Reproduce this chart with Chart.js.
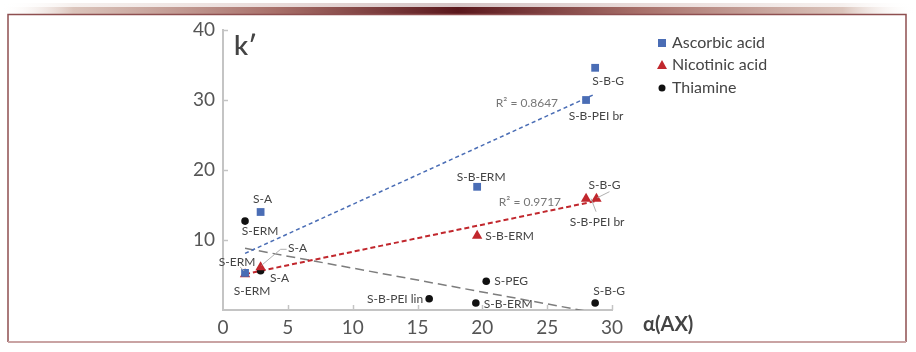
<!DOCTYPE html>
<html><head><meta charset="utf-8">
<script src="https://cdn.jsdelivr.net/npm/chart.js@4"></script>
<style>html,body{margin:0;padding:0;background:#fff}</style>
</head><body>
<canvas id="c" width="916" height="352" style="display:block;width:916px;height:352px"></canvas>
<script>
// ---------- data ----------
const seriesNames = ['Ascorbic acid', 'Nicotinic acid', 'Thiamine'];
const ascorbicX = [1.7, 2.9, 19.6, 28.0, 28.7];
const ascorbicY = [5.3, 14.0, 17.6, 30.0, 34.6];
const ascorbicLabels = ['S-ERM', 'S-A', 'S-B-ERM', 'S-B-PEI br', 'S-B-G'];
const nicotinicX = [1.7, 2.9, 19.6, 28.0, 28.8];
const nicotinicY = [5.1, 6.1, 10.6, 15.9, 15.9];
const nicotinicLabels = ['S-ERM', 'S-A', 'S-B-ERM', 'S-B-PEI br', 'S-B-G'];
const thiamineX = [1.7, 2.9, 20.3, 15.9, 19.5, 28.7];
const thiamineY = [12.7, 5.6, 4.1, 1.6, 1.0, 1.0];
const thiamineLabels = ['S-ERM', 'S-A', 'S-PEG', 'S-B-PEI lin', 'S-B-ERM', 'S-B-G'];
const xTicks = [0, 5, 10, 15, 20, 25, 30];
const yTicks = [10, 20, 30, 40];
const r2Labels = ['R\u00B2 = 0.8647', 'R\u00B2 = 0.9717'];
const yAxisTitle = 'k\u2032';
const xAxisTitle = '\u03B1(AX)';

// ---------- label placement (pixel offsets from the point) ----------
const labelOffsets = [
  [ {dx:-8, dy:-11, align:'center', leader:[[-5,-6],[-1,-2]]},
    {dx:2, dy:-13, align:'center'},
    {dx:4, dy:-10, align:'center'},
    {dx:10, dy:16, align:'center'},
    {dx:13, dy:13, align:'center'} ],
  [ {dx:7, dy:17, align:'center'},
    {dx:37, dy:-19, align:'center', leader:[[1,-2],[20,-18],[26,-18]]},
    {dx:8, dy:0, align:'left'},
    {dx:11, dy:23, align:'center', leader:[[5,0],[10,13]]},
    {dx:8, dy:-14, align:'center', leader:[[1,-1],[13,-7]]} ],
  [ {dx:15, dy:10, align:'center'},
    {dx:19, dy:7, align:'center'},
    {dx:8, dy:0, align:'left'},
    {dx:-6, dy:0, align:'right'},
    {dx:8, dy:1, align:'left'},
    {dx:14, dy:-12, align:'center'} ]
];
const r2Anchors = [ {series:0, point:3, dx:-28, dy:3}, {series:1, point:3, dx:-25, dy:3} ];

const colors = ['#4a6db5', '#c1272d', '#111111'];
const trendColors = ['#4a6db5', '#c1272d', '#7d7d7d'];
const FONT = 'Lato, "Open Sans", sans-serif';

function toPts(xs, ys) { return xs.map((x, i) => ({x: x, y: ys[i]})); }
function trend(xs, ys) {
  const n = xs.length;
  const mx = xs.reduce((a, b) => a + b, 0) / n;
  const my = ys.reduce((a, b) => a + b, 0) / n;
  let sxx = 0, sxy = 0;
  for (let i = 0; i < n; i++) { sxx += (xs[i] - mx) ** 2; sxy += (xs[i] - mx) * (ys[i] - my); }
  const b = sxy / sxx, a = my - b * mx;
  const x0 = Math.min(...xs), x1 = Math.max(...xs);
  return [{x: x0, y: a + b * x0}, {x: x1, y: a + b * x1}];
}

const seriesX = [ascorbicX, nicotinicX, thiamineX];
const seriesY = [ascorbicY, nicotinicY, thiamineY];
const seriesLabels = [ascorbicLabels, nicotinicLabels, thiamineLabels];
const pointStyles = ['rect', 'triangle', 'circle'];
const pointRadii = [5.5, 6, 3.8];
const dashes = [[4, 3], [5, 3], [9, 5]];
const dashWidths = [1.5, 2, 1.5];

const datasets = [];
for (let s = 0; s < 3; s++) {
  datasets.push({
    label: seriesNames[s], type: 'scatter', data: toPts(seriesX[s], seriesY[s]),
    pointStyle: pointStyles[s], pointRadius: pointRadii[s], pointHoverRadius: pointRadii[s],
    backgroundColor: colors[s], borderColor: colors[s], borderWidth: 0, order: 0
  });
}
for (let s = 0; s < 3; s++) {
  datasets.push({
    label: seriesNames[s] + ' trend', type: 'line', data: trend(seriesX[s], seriesY[s]),
    borderColor: trendColors[s], borderWidth: dashWidths[s], borderDash: dashes[s],
    pointRadius: 0, fill: false, tension: 0, order: 1, clip: 0
  });
}

const decor = {
  id: 'decor',
  beforeDraw(chart) {
    const ctx = chart.ctx;
    ctx.save();
    ctx.fillStyle = '#fff';
    ctx.fillRect(0, 0, chart.width, chart.height);
    // top band
    const g = ctx.createLinearGradient(0, 0, 916, 0);
    g.addColorStop(0, 'rgba(255,255,255,0)');
    g.addColorStop(0.08, 'rgba(215,190,180,0.9)');
    g.addColorStop(0.3, '#a8706a');
    g.addColorStop(0.5, '#5a171c');
    g.addColorStop(0.7, '#a8706a');
    g.addColorStop(0.92, 'rgba(215,190,180,0.9)');
    g.addColorStop(1, 'rgba(255,255,255,0)');
    ctx.fillStyle = g;
    ctx.globalAlpha = 0.25;
    ctx.fillRect(0, 3, 916, 4);
    ctx.globalAlpha = 1;
    ctx.fillRect(0, 7, 916, 7);
    // frame
    ctx.strokeStyle = '#8e4f50';
    ctx.lineWidth = 1.5;
    ctx.beginPath();
    ctx.moveTo(8, 342); ctx.lineTo(8, 14.5); ctx.lineTo(906, 14.5); ctx.lineTo(906, 342);
    ctx.stroke();
    ctx.strokeStyle = '#c9a3a3';
    ctx.lineWidth = 2;
    ctx.beginPath(); ctx.moveTo(8, 342); ctx.lineTo(906, 342); ctx.stroke();
    ctx.restore();
  },
  afterDraw(chart) {
    const ctx = chart.ctx;
    const xs = chart.scales.x, ys = chart.scales.y;
    ctx.save();
    // inner tick marks
    ctx.strokeStyle = '#c4c4c4';
    ctx.lineWidth = 1.5;
    yTicks.forEach(v => {
      const py = Math.round(ys.getPixelForValue(v)) + 0.5;
      ctx.beginPath(); ctx.moveTo(xs.left, py); ctx.lineTo(xs.left + 5, py); ctx.stroke();
    });
    xTicks.forEach(v => {
      if (v === 0) return;
      const px = Math.round(xs.getPixelForValue(v)) + 0.5;
      ctx.beginPath(); ctx.moveTo(px, ys.bottom); ctx.lineTo(px, ys.bottom - 5); ctx.stroke();
    });
    // point labels
    ctx.font = '12px ' + FONT;
    ctx.fillStyle = '#444';
    ctx.textBaseline = 'middle';
    for (let s = 0; s < 3; s++) {
      const meta = chart.getDatasetMeta(s);
      seriesLabels[s].forEach((txt, i) => {
        const el = meta.data[i];
        const o = labelOffsets[s][i];
        if (o.leader) {
          ctx.strokeStyle = '#b0b0b0';
          ctx.lineWidth = 1;
          ctx.beginPath();
          o.leader.forEach((p, k) => {
            if (k === 0) ctx.moveTo(el.x + p[0], el.y + p[1]); else ctx.lineTo(el.x + p[0], el.y + p[1]);
          });
          ctx.stroke();
        }
        ctx.textAlign = o.align;
        ctx.fillText(txt, el.x + o.dx, el.y + o.dy);
      });
    }
    // R² labels
    ctx.fillStyle = '#777';
    ctx.font = '12px ' + FONT;
    ctx.textAlign = 'right';
    r2Anchors.forEach((a, k) => {
      const el = chart.getDatasetMeta(a.series).data[a.point];
      ctx.fillText(r2Labels[k], el.x + a.dx, el.y + a.dy);
    });
    // axis titles
    ctx.fillStyle = '#444';
    ctx.textAlign = 'left';
    ctx.textBaseline = 'alphabetic';
    ctx.font = '600 27px ' + FONT;
    ctx.fillText(yAxisTitle, 234, 55);
    ctx.font = 'bold 20px ' + FONT;
    ctx.fillText(xAxisTitle, 643, 331);
    // legend
    const lx = 662, lys = [43, 65, 88];
    ctx.font = '16px ' + FONT;
    ctx.textBaseline = 'middle';
    for (let s = 0; s < 3; s++) {
      const y = lys[s];
      ctx.fillStyle = colors[s];
      ctx.beginPath();
      if (s === 0) ctx.rect(lx - 4, y - 4, 8, 8);
      else if (s === 1) { ctx.moveTo(lx, y - 5); ctx.lineTo(lx + 5, y + 4); ctx.lineTo(lx - 5, y + 4); ctx.closePath(); }
      else ctx.arc(lx, y, 3.5, 0, Math.PI * 2);
      ctx.fill();
      ctx.fillStyle = '#444';
      ctx.fillText(seriesNames[s], 672, y);
    }
    ctx.restore();
  }
};

new Chart(document.getElementById('c'), {
  type: 'scatter',
  data: { datasets: datasets },
  options: {
    responsive: false, animation: false, devicePixelRatio: 1,
    layout: { padding: { left: 0, top: 30, right: 304, bottom: 0 } },
    plugins: { legend: { display: false }, tooltip: { enabled: false } },
    scales: {
      x: {
        type: 'linear', min: 0, max: 30,
        afterFit(scale) { scale.height = 42; },
        afterBuildTicks(scale) { scale.ticks = xTicks.map(v => ({value: v})); },
        grid: { display: false, drawTicks: false },
        border: { display: true, color: '#c4c4c4', width: 2 },
        ticks: { padding: 6, color: '#555', font: { family: FONT, size: 19 }, maxRotation: 0 }
      },
      y: {
        type: 'linear', min: 0, max: 40,
        afterFit(scale) { scale.width = 223; },
        afterBuildTicks(scale) { scale.ticks = [0].concat(yTicks).map(v => ({value: v})); },
        grid: { display: false, drawTicks: false },
        border: { display: true, color: '#c4c4c4', width: 2 },
        ticks: { padding: 8, color: '#555', font: { family: FONT, size: 19 },
          callback: v => (yTicks.includes(v) ? String(v) : '') }
      }
    }
  },
  plugins: [decor]
});
</script>
</body></html>
